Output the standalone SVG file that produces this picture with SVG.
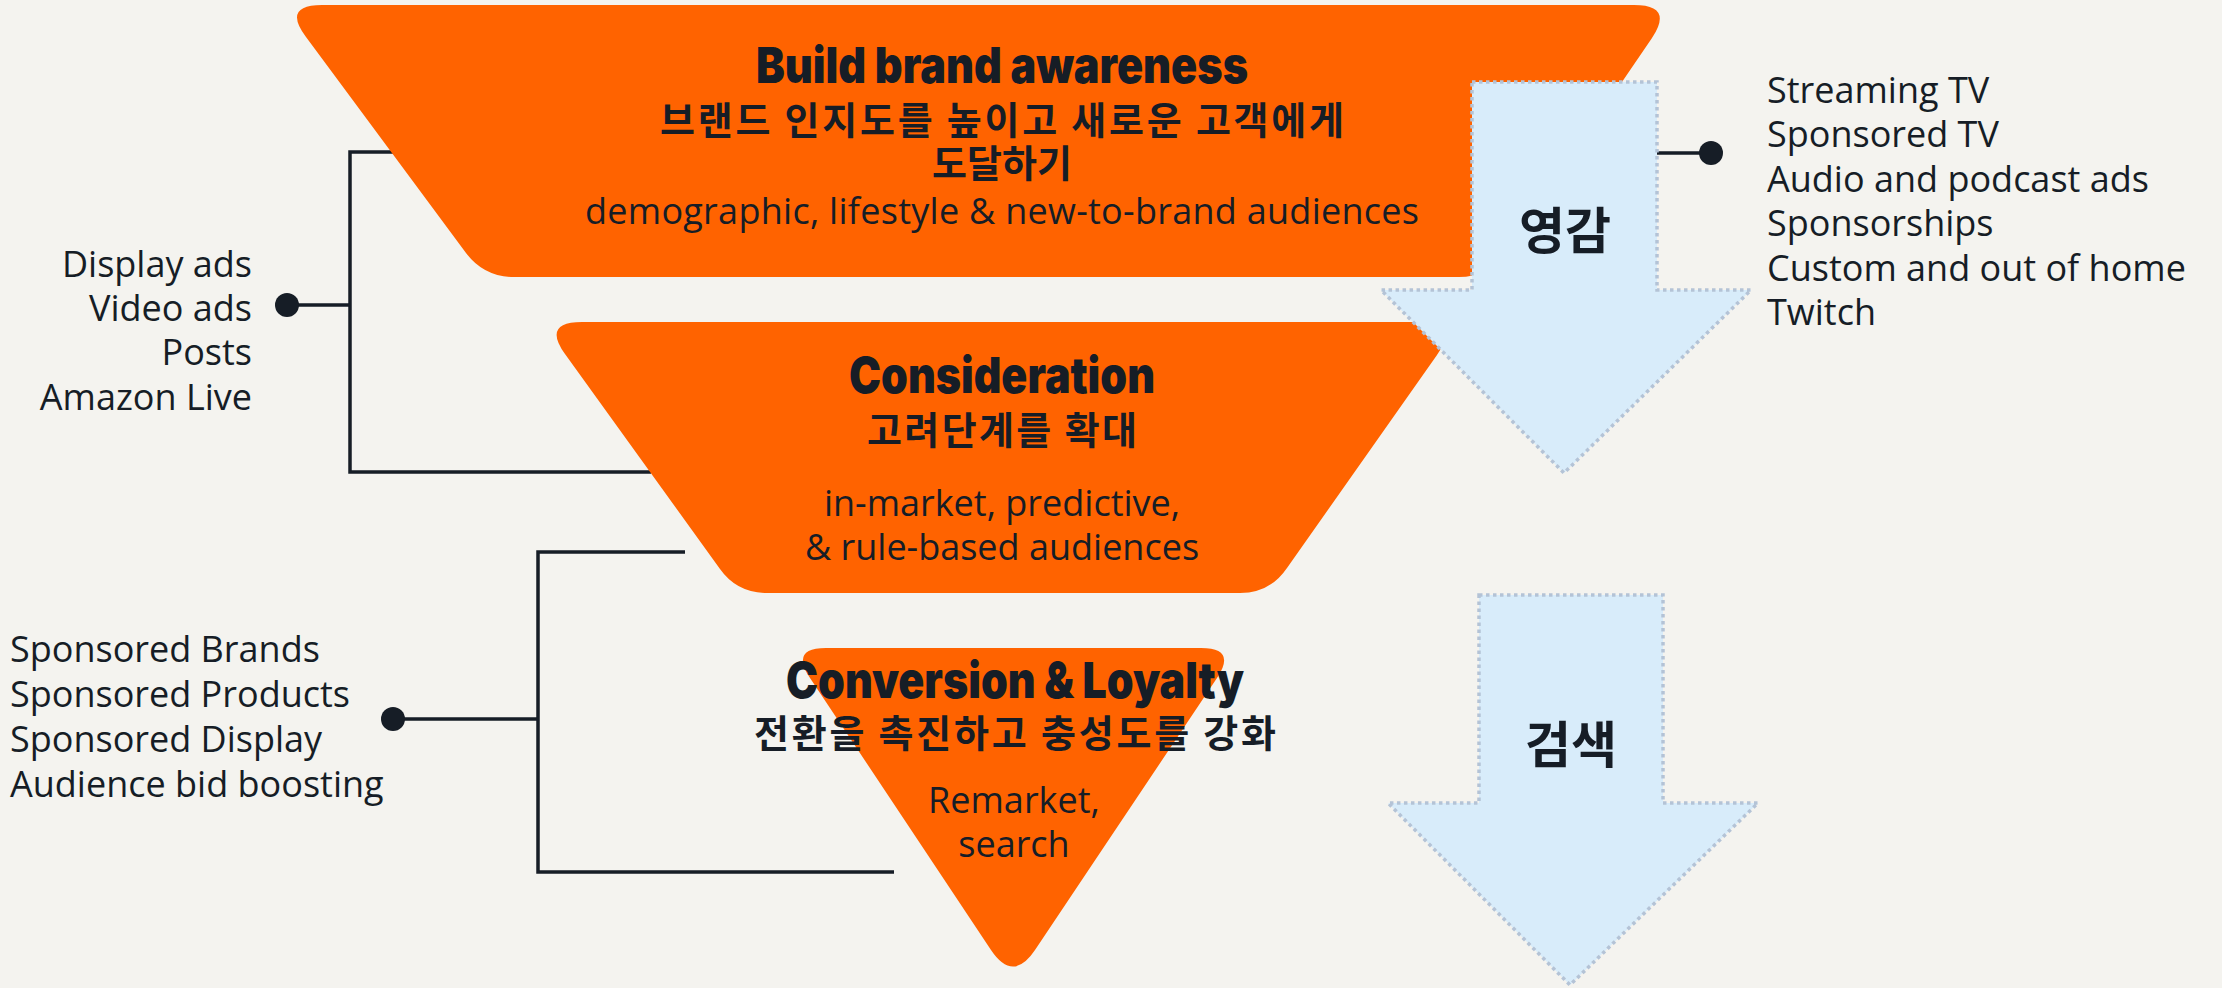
<svg xmlns="http://www.w3.org/2000/svg" width="2222" height="988" viewBox="0 0 2222 988">
<style>
.bg{fill:#f4f3ef}
.stage{fill:#ff6300}
.arrow{fill:#d8ecfa;stroke:#b4c3d6;stroke-width:3.5;stroke-dasharray:3.5 3.5}
.line{stroke:#161d26;stroke-width:3.5;fill:none}
.dot{fill:#161d26}
.h{font-family:Inter,Roboto,"Liberation Sans",sans-serif;font-weight:900;font-size:50px;fill:#161d26;text-anchor:middle}
.ko{font-family:"Noto Sans CJK KR","Noto Sans",sans-serif;font-weight:700;font-size:38px;fill:#161d26;text-anchor:middle}
.kb{font-family:"Noto Sans CJK KR","Noto Sans",sans-serif;font-weight:700;font-size:50px;fill:#161d26;text-anchor:middle}
.t{font-family:"Open Sans","Noto Sans","Liberation Sans",sans-serif;font-size:36px;fill:#161d26}
.c{text-anchor:middle}
.r{text-anchor:end}
</style>
<rect class="bg" x="0" y="0" width="2222" height="988"/>
<g id="connectors">
<polyline class="line" points="398,152 350,152 350,472 651,472"/>
<line class="line" x1="287" y1="305" x2="350" y2="305"/>
<circle class="dot" cx="287" cy="305" r="12"/>
<polyline class="line" points="685,552 538,552 538,872 894,872"/>
<line class="line" x1="393" y1="719" x2="538" y2="719"/>
<circle class="dot" cx="393" cy="719" r="12"/>
<line class="line" x1="1655" y1="153" x2="1711" y2="153"/>
<circle class="dot" cx="1711" cy="153" r="12"/>
</g>
<g id="awareness">
<path class="stage" d="M322,5 L1634,5 Q1674,5 1652,38 L1506,252 Q1489,277 1459,277 L514,277 Q484,277 466,253 L306,37 Q282,5 322,5 Z"/>
<text class="h" x="1002" y="83" textLength="492" lengthAdjust="spacingAndGlyphs">Build brand awareness</text>
<text class="ko" x="1002" y="134" textLength="684" lengthAdjust="spacing">브랜드 인지도를 높이고 새로운 고객에게</text>
<text class="ko" x="1002" y="177">도달하기</text>
<text class="t c" x="1002" y="224" textLength="834" lengthAdjust="spacing">demographic, lifestyle &amp; new-to-brand audiences</text>
</g>
<g id="consideration">
<path class="stage" d="M582,322 L1420,322 Q1460,322 1437,355 L1287,568 Q1270,593 1240,593 L767,593 Q737,593 720,569 L565,354 Q542,322 582,322 Z"/>
<text class="h" x="1002" y="393" textLength="306" lengthAdjust="spacingAndGlyphs">Consideration</text>
<text class="ko" x="1002" y="444" textLength="270" lengthAdjust="spacing">고려단계를 확대</text>
<text class="t c" x="1002" y="516">in-market, predictive,</text>
<text class="t c" x="1002" y="560">&amp; rule-based audiences</text>
</g>
<g id="conversion">
<path class="stage" d="M826,648 L1201,648 Q1237,648 1217,678 L1035,950 Q1013,983 991,950 L810,678 Q790,648 826,648 Z"/>
<text class="h" x="1015" y="698" textLength="458" lengthAdjust="spacingAndGlyphs">Conversion &amp; Loyalty</text>
<text class="ko" x="1015" y="747" textLength="522" lengthAdjust="spacing">전환을 촉진하고 충성도를 강화</text>
<text class="t c" x="1014" y="813">Remarket,</text>
<text class="t c" x="1014" y="857">search</text>
</g>
<g id="inspiration">
<path class="arrow" d="M1472,82 L1657,82 L1657,290 L1751,290 L1564,473 L1381,290 L1472,290 Z"/>
<text class="kb" x="1565" y="249">영감</text>
</g>
<g id="search">
<path class="arrow" d="M1479,595 L1663,595 L1663,803 L1758,803 L1570,985 L1388,803 L1479,803 Z"/>
<text class="kb" x="1571" y="763">검색</text>
</g>
<g id="upper-channels">
<text class="t" x="1767" y="103">Streaming TV</text>
<text class="t" x="1767" y="147">Sponsored TV</text>
<text class="t" x="1767" y="192">Audio and podcast ads</text>
<text class="t" x="1767" y="236">Sponsorships</text>
<text class="t" x="1767" y="281">Custom and out of home</text>
<text class="t" x="1767" y="325">Twitch</text>
</g>
<g id="mid-channels">
<text class="t r" x="252" y="277">Display ads</text>
<text class="t r" x="252" y="321">Video ads</text>
<text class="t r" x="252" y="365">Posts</text>
<text class="t r" x="252" y="410">Amazon Live</text>
</g>
<g id="lower-channels">
<text class="t" x="10" y="662">Sponsored Brands</text>
<text class="t" x="10" y="707">Sponsored Products</text>
<text class="t" x="10" y="752">Sponsored Display</text>
<text class="t" x="10" y="797">Audience bid boosting</text>
</g>
</svg>
